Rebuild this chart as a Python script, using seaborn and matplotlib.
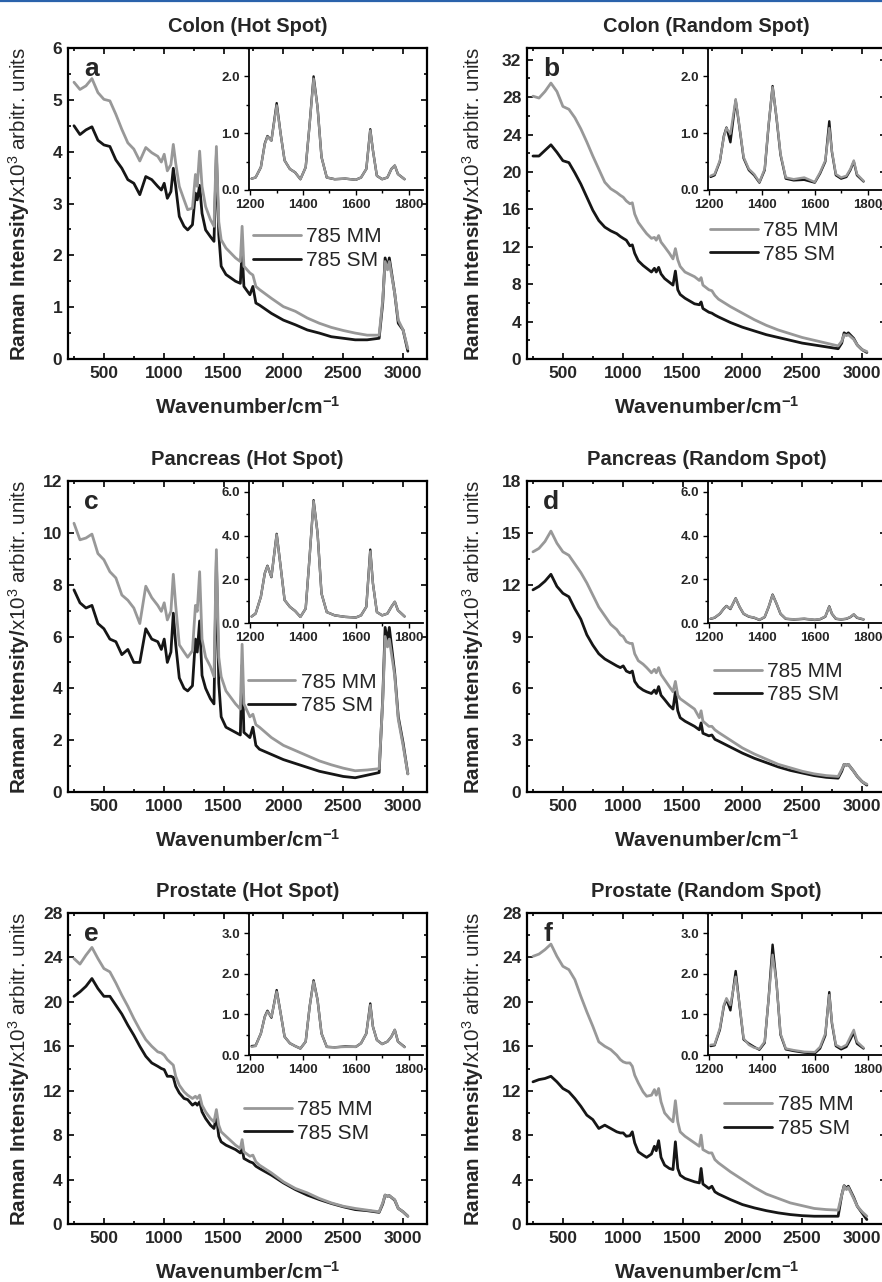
import matplotlib
matplotlib.use("Agg")
import matplotlib.pyplot as plt
import seaborn as sns
from matplotlib.lines import Line2D
from matplotlib.ticker import MultipleLocator

sns.set_style("ticks")
plt.rcParams["font.family"] = ["Liberation Sans", "DejaVu Sans"]
plt.rcParams["mathtext.fontset"] = "custom"
plt.rcParams["mathtext.rm"] = "Liberation Sans"
plt.rcParams["mathtext.bf"] = "Liberation Sans:bold"
plt.rcParams["mathtext.it"] = "Liberation Sans:italic"

# ---- data (intensities in x10^3 a.u.) ----
wavenumber = [250, 300, 350, 400, 450, 500, 550, 600, 650, 700,
              750, 800, 850, 900, 950, 980, 1004, 1030, 1060, 1080,
              1100, 1130, 1170, 1200, 1240, 1265, 1280, 1300, 1320, 1350,
              1390, 1420, 1440, 1460, 1480, 1520, 1600, 1640, 1655, 1670,
              1720, 1745, 1770, 1800, 1900, 2000, 2100, 2200, 2300, 2400,
              2500, 2600, 2700, 2800, 2830, 2850, 2870, 2885, 2930, 2960,
              3000, 3040]

colon_hot_mm = [5.34, 5.20, 5.27, 5.41, 5.14, 5.01, 4.98, 4.72, 4.43, 4.17,
                4.05, 3.82, 4.08, 3.98, 3.91, 3.80, 3.95, 3.63, 3.75, 4.14,
                3.78, 3.33, 3.07, 2.88, 2.91, 3.56, 3.33, 4.01, 3.33, 2.94,
                2.69, 2.56, 4.10, 2.65, 2.30, 2.14, 1.95, 1.88, 2.56, 1.79,
                1.66, 1.62, 1.40, 1.34, 1.17, 1.01, 0.92, 0.79, 0.69, 0.61,
                0.55, 0.50, 0.46, 0.46, 1.14, 1.88, 1.72, 1.88, 1.27, 0.75,
                0.56, 0.20]
colon_hot_sm = [4.50, 4.33, 4.42, 4.48, 4.22, 4.13, 4.10, 3.84, 3.68, 3.46,
                3.39, 3.17, 3.52, 3.46, 3.33, 3.26, 3.39, 3.10, 3.23, 3.68,
                3.33, 2.75, 2.56, 2.49, 2.59, 3.20, 3.07, 3.35, 2.81, 2.49,
                2.36, 2.27, 3.95, 2.40, 1.79, 1.63, 1.50, 1.46, 2.08, 1.40,
                1.24, 1.40, 1.08, 1.04, 0.88, 0.75, 0.66, 0.56, 0.50, 0.43,
                0.40, 0.37, 0.37, 0.40, 1.08, 1.95, 1.75, 1.95, 1.27, 0.69,
                0.56, 0.15]

colon_rand_mm = [28.1, 27.9, 28.6, 29.5, 28.6, 27.0, 26.7, 25.8, 24.6, 23.2,
                 21.7, 20.3, 18.9, 18.2, 17.8, 17.5, 17.3, 16.9, 16.6, 16.7,
                 15.5, 14.6, 13.9, 13.4, 12.9, 13.0, 12.7, 13.2, 12.5, 12.0,
                 11.3, 10.7, 11.8, 10.6, 9.9, 9.3, 8.8, 8.4, 8.7, 7.9,
                 7.4, 7.3, 6.8, 6.4, 5.6, 4.9, 4.2, 3.6, 3.1, 2.7,
                 2.3, 2.0, 1.7, 1.4, 1.9, 2.6, 2.5, 2.6, 2.1, 1.5,
                 1.0, 0.8]
colon_rand_sm = [21.7, 21.7, 22.3, 22.9, 22.1, 21.2, 21.0, 19.9, 18.7, 17.3,
                 15.9, 14.8, 14.1, 13.7, 13.4, 13.1, 12.9, 12.7, 12.1, 12.2,
                 11.3, 10.5, 10.0, 9.7, 9.3, 9.7, 9.3, 9.8, 9.1, 8.6,
                 8.2, 7.9, 9.4, 7.4, 6.9, 6.5, 5.9, 5.8, 6.1, 5.4,
                 5.0, 4.9, 4.7, 4.5, 3.9, 3.4, 3.0, 2.6, 2.3, 2.0,
                 1.7, 1.5, 1.3, 1.1, 1.7, 2.8, 2.6, 2.8, 2.2, 1.5,
                 1.0, 0.7]

pancreas_hot_mm = [10.37, 9.73, 9.80, 9.95, 9.20, 8.96, 8.50, 8.26, 7.60, 7.40,
                   7.10, 6.50, 7.94, 7.50, 7.20, 6.97, 7.30, 6.64, 6.97, 8.40,
                   7.20, 5.68, 5.40, 5.20, 5.45, 7.20, 6.97, 8.50, 5.90, 5.20,
                   4.84, 4.45, 9.35, 5.20, 4.45, 3.90, 3.40, 3.20, 5.70, 3.40,
                   2.90, 3.00, 2.60, 2.50, 2.10, 1.80, 1.60, 1.40, 1.20, 1.05,
                   0.92, 0.82, 0.85, 0.90, 3.50, 6.00, 5.60, 5.90, 4.50, 2.80,
                   1.80, 0.70]
pancreas_hot_sm = [7.80, 7.30, 7.10, 7.20, 6.50, 6.30, 5.90, 5.80, 5.30, 5.50,
                   5.00, 5.00, 6.30, 5.90, 5.80, 5.50, 5.90, 5.00, 5.40, 6.90,
                   5.70, 4.40, 4.00, 3.90, 4.10, 5.90, 5.40, 6.60, 4.50, 4.00,
                   3.60, 3.40, 9.00, 4.20, 2.90, 2.50, 2.30, 2.20, 4.90, 2.30,
                   2.10, 2.50, 1.80, 1.65, 1.45, 1.25, 1.10, 0.95, 0.80, 0.70,
                   0.60, 0.55, 0.65, 0.75, 3.60, 6.35, 5.80, 6.35, 4.60, 2.90,
                   1.90, 0.70]

pancreas_rand_mm = [13.9, 14.1, 14.5, 15.1, 14.4, 13.9, 13.7, 13.2, 12.7, 12.1,
                    11.4, 10.7, 10.2, 9.7, 9.4, 9.1, 9.0, 8.7, 8.6, 8.6,
                    8.0, 7.6, 7.4, 7.2, 6.9, 7.1, 6.9, 7.2, 6.8, 6.5,
                    6.1, 5.8, 6.4, 5.6, 5.4, 5.2, 4.8, 4.3, 4.7, 4.1,
                    3.8, 3.8, 3.6, 3.45, 3.0, 2.55, 2.2, 1.9, 1.6, 1.4,
                    1.2, 1.05, 0.95, 0.9, 1.3, 1.6, 1.55, 1.6, 1.2, 0.9,
                    0.6, 0.45]
pancreas_rand_sm = [11.7, 11.9, 12.2, 12.6, 11.9, 11.5, 11.3, 10.6, 10.0, 9.1,
                    8.5, 8.0, 7.7, 7.5, 7.3, 7.2, 7.3, 7.0, 6.9, 7.0,
                    6.4, 6.1, 5.9, 5.8, 5.7, 5.9, 5.7, 6.1, 5.6, 5.35,
                    5.0, 4.8, 5.8, 4.7, 4.3, 4.1, 3.8, 3.6, 4.0, 3.4,
                    3.25, 3.3, 3.05, 2.95, 2.6, 2.25, 1.95, 1.7, 1.45, 1.25,
                    1.1, 0.95, 0.85, 0.8, 1.2, 1.6, 1.55, 1.6, 1.2, 0.9,
                    0.6, 0.4]

prostate_hot_mm = [23.9, 23.4, 24.2, 24.9, 23.9, 23.0, 22.7, 21.7, 20.6, 19.6,
                   18.5, 17.5, 16.6, 16.0, 15.5, 15.4, 15.2, 14.8, 14.5, 14.3,
                   13.3, 12.5, 11.9, 11.6, 11.3, 11.5, 11.3, 11.6, 10.7, 10.1,
                   9.5, 9.2, 10.3, 8.9, 8.3, 7.9, 7.1, 6.8, 7.6, 6.5,
                   6.1, 6.2, 5.6, 5.3, 4.6, 3.8, 3.2, 2.8, 2.3, 1.9,
                   1.6, 1.4, 1.25, 1.1, 1.9, 2.6, 2.5, 2.55, 2.2, 1.4,
                   1.1, 0.7]
prostate_hot_sm = [20.5, 20.9, 21.4, 22.1, 21.2, 20.5, 20.5, 19.7, 18.9, 17.9,
                   17.0, 16.0, 15.1, 14.5, 14.2, 14.0, 13.9, 13.3, 13.3, 13.2,
                   12.4, 11.8, 11.3, 11.2, 10.7, 10.9, 10.7, 11.0, 10.1, 9.5,
                   8.9, 8.6, 9.7, 7.9, 7.4, 7.1, 6.7, 6.4, 6.8, 5.9,
                   5.6, 5.5, 5.2, 5.0, 4.4, 3.7, 3.1, 2.6, 2.2, 1.85,
                   1.55, 1.3, 1.2, 1.05, 1.8, 2.6, 2.5, 2.55, 2.15, 1.4,
                   1.1, 0.7]

prostate_rand_mm = [24.1, 24.3, 24.7, 25.2, 24.1, 23.2, 22.9, 22.0, 20.5, 19.1,
                    17.8, 16.4, 16.0, 15.7, 15.2, 14.8, 14.6, 14.5, 14.5, 14.2,
                    13.4, 12.7, 11.9, 11.5, 11.6, 12.1, 11.6, 12.2, 11.0, 10.0,
                    9.5, 9.2, 11.1, 9.2, 8.3, 7.9, 7.3, 7.0, 8.0, 6.7,
                    6.4, 6.4, 5.8, 5.5, 4.7, 4.0, 3.3, 2.7, 2.3, 1.9,
                    1.65, 1.4, 1.3, 1.25, 2.6, 3.4, 3.1, 3.3, 2.3, 1.6,
                    1.1, 0.7]
prostate_rand_sm = [12.8, 13.0, 13.1, 13.3, 12.8, 12.2, 11.9, 11.3, 10.6, 9.8,
                    9.4, 8.6, 8.9, 8.6, 8.3, 8.2, 8.2, 7.9, 7.95, 8.3,
                    7.3, 6.5, 6.2, 6.0, 6.3, 7.0, 6.6, 7.5, 6.0, 5.3,
                    5.0, 4.9, 7.4, 5.0, 4.4, 4.1, 3.8, 3.7, 5.0, 3.6,
                    3.2, 3.4, 2.9, 2.7, 2.2, 1.75, 1.45, 1.2, 1.0, 0.85,
                    0.75, 0.7, 0.7, 0.7, 2.6, 3.45, 3.2, 3.4, 2.4, 1.6,
                    1.0, 0.4]

# insets (1200-1800 cm-1 region)
inset_wavenumber = [1205, 1220, 1240, 1255, 1265, 1280, 1300, 1315, 1330, 1350,
                    1370, 1390, 1410, 1425, 1440, 1455, 1470, 1490, 1520, 1560,
                    1600, 1620, 1640, 1655, 1665, 1680, 1700, 1720, 1735, 1748,
                    1760, 1785]

colon_hot_mm_in = [0.20, 0.22, 0.40, 0.81, 0.94, 0.87, 1.49, 0.99, 0.52, 0.37,
                   0.31, 0.19, 0.40, 1.16, 1.96, 1.46, 0.58, 0.22, 0.19, 0.20,
                   0.18, 0.22, 0.37, 1.05, 0.70, 0.25, 0.19, 0.22, 0.37, 0.43,
                   0.28, 0.19]
colon_hot_sm_in = [0.20, 0.22, 0.40, 0.82, 0.95, 0.87, 1.53, 0.99, 0.52, 0.37,
                   0.31, 0.19, 0.40, 1.16, 2.00, 1.46, 0.58, 0.22, 0.19, 0.20,
                   0.18, 0.22, 0.37, 1.07, 0.70, 0.25, 0.19, 0.22, 0.37, 0.43,
                   0.28, 0.19]

colon_rand_mm_in = [0.25, 0.28, 0.52, 0.93, 1.09, 0.99, 1.60, 1.10, 0.58, 0.37,
                    0.28, 0.14, 0.37, 1.16, 1.81, 1.28, 0.64, 0.22, 0.19, 0.22,
                    0.14, 0.31, 0.52, 1.09, 0.69, 0.28, 0.22, 0.25, 0.37, 0.52,
                    0.28, 0.16]
colon_rand_sm_in = [0.23, 0.26, 0.50, 0.95, 1.10, 0.84, 1.58, 1.08, 0.56, 0.35,
                    0.26, 0.13, 0.35, 1.14, 1.83, 1.26, 0.62, 0.20, 0.17, 0.18,
                    0.13, 0.29, 0.50, 1.21, 0.67, 0.26, 0.20, 0.23, 0.35, 0.50,
                    0.26, 0.15]

pancreas_hot_mm_in = [0.30, 0.43, 1.20, 2.28, 2.60, 2.12, 4.05, 2.58, 1.05, 0.74,
                      0.55, 0.28, 0.66, 3.05, 5.58, 4.12, 1.35, 0.50, 0.35, 0.28,
                      0.25, 0.35, 0.74, 3.28, 1.82, 0.50, 0.35, 0.43, 0.74, 0.97,
                      0.58, 0.30]
pancreas_hot_sm_in = [0.30, 0.43, 1.20, 2.28, 2.62, 2.10, 4.08, 2.58, 1.05, 0.74,
                      0.55, 0.28, 0.66, 3.05, 5.62, 4.12, 1.35, 0.50, 0.35, 0.28,
                      0.25, 0.35, 0.74, 3.36, 1.82, 0.50, 0.35, 0.43, 0.74, 0.97,
                      0.58, 0.30]

pancreas_rand_mm_in = [0.20, 0.25, 0.43, 0.66, 0.77, 0.66, 1.12, 0.74, 0.43, 0.30,
                       0.25, 0.15, 0.28, 0.74, 1.28, 0.89, 0.43, 0.20, 0.17, 0.20,
                       0.15, 0.18, 0.30, 0.74, 0.43, 0.20, 0.17, 0.20, 0.28, 0.40,
                       0.25, 0.17]
pancreas_rand_sm_in = [0.19, 0.24, 0.42, 0.66, 0.78, 0.64, 1.13, 0.73, 0.42, 0.29,
                       0.24, 0.14, 0.27, 0.73, 1.30, 0.88, 0.42, 0.19, 0.16, 0.19,
                       0.14, 0.17, 0.29, 0.76, 0.42, 0.19, 0.16, 0.19, 0.27, 0.39,
                       0.24, 0.16]

prostate_hot_mm_in = [0.20, 0.22, 0.53, 0.94, 1.07, 0.94, 1.56, 1.03, 0.45, 0.29,
                      0.22, 0.16, 0.33, 1.19, 1.81, 1.36, 0.53, 0.20, 0.19, 0.20,
                      0.20, 0.29, 0.53, 1.23, 0.70, 0.37, 0.27, 0.33, 0.45, 0.62,
                      0.33, 0.19]
prostate_hot_sm_in = [0.22, 0.23, 0.53, 0.95, 1.09, 0.92, 1.60, 1.03, 0.45, 0.29,
                      0.22, 0.16, 0.33, 1.19, 1.84, 1.36, 0.53, 0.20, 0.19, 0.21,
                      0.20, 0.29, 0.53, 1.27, 0.70, 0.37, 0.27, 0.33, 0.45, 0.62,
                      0.33, 0.20]

prostate_rand_mm_in = [0.25, 0.26, 0.66, 1.23, 1.40, 1.23, 1.93, 1.23, 0.41, 0.25,
                       0.18, 0.15, 0.33, 1.40, 2.47, 1.77, 0.53, 0.16, 0.12, 0.08,
                       0.07, 0.20, 0.53, 1.48, 0.82, 0.25, 0.18, 0.25, 0.45, 0.62,
                       0.33, 0.18]
prostate_rand_sm_in = [0.22, 0.24, 0.62, 1.20, 1.37, 1.10, 2.07, 1.20, 0.38, 0.28,
                       0.20, 0.13, 0.30, 1.40, 2.72, 1.77, 0.50, 0.14, 0.10, 0.06,
                       0.04, 0.16, 0.48, 1.55, 0.78, 0.22, 0.14, 0.20, 0.38, 0.55,
                       0.28, 0.16]

letters = ["a", "b", "c", "d", "e", "f"]
titles = ["Colon (Hot Spot)", "Colon (Random Spot)",
          "Pancreas (Hot Spot)", "Pancreas (Random Spot)",
          "Prostate (Hot Spot)", "Prostate (Random Spot)"]
mm_series = [colon_hot_mm, colon_rand_mm, pancreas_hot_mm,
             pancreas_rand_mm, prostate_hot_mm, prostate_rand_mm]
sm_series = [colon_hot_sm, colon_rand_sm, pancreas_hot_sm,
             pancreas_rand_sm, prostate_hot_sm, prostate_rand_sm]
mm_inset = [colon_hot_mm_in, colon_rand_mm_in, pancreas_hot_mm_in,
            pancreas_rand_mm_in, prostate_hot_mm_in, prostate_rand_mm_in]
sm_inset = [colon_hot_sm_in, colon_rand_sm_in, pancreas_hot_sm_in,
            pancreas_rand_sm_in, prostate_hot_sm_in, prostate_rand_sm_in]

# axis setup per panel: (ymax, major, minor), inset (ymax, major, minor)
main_y = [(6, 1, 0.5), (33.25, 4, 2), (12, 2, 1), (18, 3, 1.5), (28, 4, 2), (28, 4, 2)]
inset_y = [(2.5, 1, 0.5), (2.5, 1, 0.5), (6.5, 2, 1), (6.5, 2, 1), (3.5, 1, 0.5), (3.5, 1, 0.5)]
legend_pos = [(0.515, 0.355), (0.51, 0.375), (0.50, 0.315),
              (0.52, 0.35), (0.49, 0.33), (0.55, 0.345)]

GRAY = "#989898"
BLACK = "#161616"
W, H = 882, 1282
fig = plt.figure(figsize=(W / 100, H / 100), dpi=100)


def px_axes(left, top, width, height):
    return fig.add_axes([left / W, 1 - (top + height) / H, width / W, height / H])


col_left = [68, 527]
row_top = [48, 481, 913]
AX_W, AX_H = 359, 311

ylabel = r"$\mathbf{Raman\ Intensity/}$x10$^{3}$ arbitr. units"
xlabel = r"Wavenumber/cm$^{\mathbf{-1}}$"

for i in range(6):
    r, c = divmod(i, 2)
    ax = px_axes(col_left[c], row_top[r], AX_W, AX_H)
    sns.lineplot(x=wavenumber, y=sm_series[i], ax=ax, color=BLACK, lw=2.0, label="785 SM")
    sns.lineplot(x=wavenumber, y=mm_series[i], ax=ax, color=GRAY, lw=2.0, label="785 MM")

    ymax, ymaj, ymin = main_y[i]
    ax.set_xlim(200, 3200)
    ax.set_ylim(0, ymax)
    xt = [500, 1000, 1500, 2000, 2500, 3000]
    ax.set_xticks(xt, [str(v) for v in xt], fontweight="bold", fontsize=12.5)
    n = int(ymax // ymaj)
    yt = [k * ymaj for k in range(n + 1)]
    ax.set_yticks(yt, ["%g" % v for v in yt], fontweight="bold", fontsize=12.5)
    ax.xaxis.set_minor_locator(MultipleLocator(250))
    ax.yaxis.set_minor_locator(MultipleLocator(ymin))
    ax.tick_params(which="both", direction="in", top=True, right=True,
                   width=1.2, color="black")
    ax.tick_params(which="major", length=4.5)
    ax.tick_params(which="minor", length=2.5)
    ax.tick_params(axis="x", pad=5)
    ax.tick_params(axis="y", pad=4)
    for s in ax.spines.values():
        s.set_linewidth(1.6)
        s.set_color("black")

    ax.set_title(titles[i], fontsize=14.5, fontweight="bold", pad=11.5)
    ax.set_xlabel(xlabel, fontsize=15, fontweight="bold")
    ax.set_ylabel(ylabel, fontsize=14.8)
    ax.xaxis.set_label_coords(0.5, -0.12)
    ax.yaxis.set_label_coords(-0.100 if c == 0 else -0.114, 0.5)

    ax.text(0.045, 0.91, letters[i], transform=ax.transAxes, fontsize=19,
            fontweight="bold", ha="left", va="baseline")

    h, l = ax.get_legend_handles_labels()
    ax.legend([h[1], h[0]], [l[1], l[0]], loc="center left",
              bbox_to_anchor=legend_pos[i], frameon=False, fontsize=15,
              handlelength=2.3, handletextpad=0.25, labelspacing=0.22,
              borderpad=0, borderaxespad=0)

    # inset
    ins = px_axes(col_left[c] + 181, row_top[r], 174, 142)
    ins.patch.set_alpha(0)
    sns.lineplot(x=inset_wavenumber, y=sm_inset[i], ax=ins, color=BLACK, lw=1.7)
    sns.lineplot(x=inset_wavenumber, y=mm_inset[i], ax=ins, color=GRAY, lw=1.7)
    iymax, iymaj, iymin = inset_y[i]
    ins.set_xlim(1195, 1855)
    ins.set_ylim(0, iymax)
    ixt = [1200, 1400, 1600, 1800]
    ins.set_xticks(ixt, [str(v) for v in ixt], fontweight="bold", fontsize=9.5)
    iyt = [k * iymaj for k in range(int(iymax // iymaj) + 1)]
    ins.set_yticks(iyt, ["%.1f" % v for v in iyt], fontweight="bold", fontsize=9.5)
    ins.xaxis.set_minor_locator(MultipleLocator(100))
    ins.yaxis.set_minor_locator(MultipleLocator(iymin))
    ins.tick_params(which="both", direction="out", width=1.0, color="black", pad=3)
    ins.tick_params(which="major", length=3.5)
    ins.tick_params(which="minor", length=2)
    ins.spines["top"].set_visible(False)
    ins.spines["right"].set_visible(False)
    for s in ["left", "bottom"]:
        ins.spines[s].set_linewidth(1.3)
        ins.spines[s].set_color("black")
    ins.set_xlabel("")
    ins.set_ylabel("")

fig.add_artist(Line2D([0, 1], [1 - 1 / H, 1 - 1 / H], color="#2a62ab", lw=1.6))

fig.savefig("out.png", dpi=100)
